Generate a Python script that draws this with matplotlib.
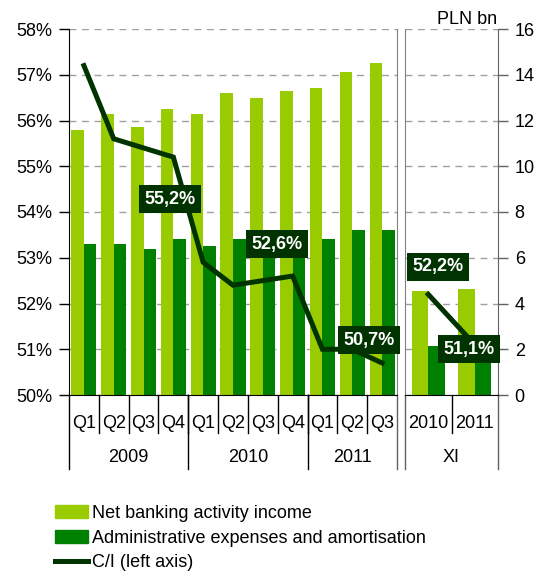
import matplotlib.pyplot as plt
import matplotlib.patches as mpatches
from matplotlib.lines import Line2D

plt.rcParams['font.family'] = ['Liberation Sans', 'DejaVu Sans']

# quarterly data
quarters = ['Q1', 'Q2', 'Q3', 'Q4', 'Q1', 'Q2', 'Q3', 'Q4', 'Q1', 'Q2', 'Q3']
years = ['2009', '2010', '2011']
year_len = [4, 4, 3]
income_q = [11.6, 12.3, 11.7, 12.5, 12.3, 13.2, 13.0, 13.3, 13.4, 14.1, 14.5]
costs_q = [6.6, 6.6, 6.4, 6.8, 6.5, 6.8, 6.8, 7.0, 6.8, 7.2, 7.2]
ci_q = [57.2, 55.6, 55.4, 55.2, 52.9, 52.4, 52.5, 52.6, 51.0, 51.0, 50.7]

# year to date (XI)
ytd_labels = ['2010', '2011']
income_ytd = [4.55, 4.63]
costs_ytd = [2.14, 2.2]
ci_ytd = [52.2, 51.1]

light = '#99CC00'
dark = '#008000'
line_c = '#003300'
fs = 13

fig = plt.figure(figsize=(5.34, 5.71), dpi=100)
W, H = 534, 571
bottom = 1 - 395 / H
height = 366 / H
ax1 = fig.add_axes([69 / W, bottom, (397 - 69) / W, height])
ax2 = fig.add_axes([405 / W, bottom, (498 - 405) / W, height])


def setup_bars(ax, inc, cost, bw):
    x = list(range(len(inc)))
    ax.bar([i - bw / 2 for i in x], inc, width=bw, color=light, zorder=2)
    ax.bar([i + bw / 2 for i in x], cost, width=bw, color=dark, zorder=2)
    ax.set_xlim(-0.5, len(inc) - 0.5)
    ax.set_ylim(0, 16)
    ax.set_yticks(range(0, 17, 2))
    ax.yaxis.grid(True, ls=(0, (5, 4)), color='#a0a0a0', lw=1)
    ax.set_axisbelow(True)
    ax.tick_params(axis='x', bottom=False, labelbottom=False)
    ax.spines['top'].set_visible(False)
    return x


x1 = setup_bars(ax1, income_q, costs_q, 0.42)
x2 = setup_bars(ax2, income_ytd, costs_ytd, 0.36)

# C/I line on left scale
l1 = ax1.twinx()
l1.set_ylim(50, 58)
l1.yaxis.tick_left()
l1.set_yticks(range(50, 59))
l1.set_yticklabels(['%d%%' % v for v in range(50, 59)])
l1.tick_params(axis='y', length=7, width=1, labelsize=fs, pad=5)
for s in l1.spines.values():
    s.set_visible(False)
l1.plot(x1, ci_q, color=line_c, lw=3.6, solid_joinstyle='miter', zorder=3)

l2 = ax2.twinx()
l2.set_ylim(50, 58)
l2.set_yticks([])
for s in l2.spines.values():
    s.set_visible(False)
l2.plot(x2, ci_ytd, color=line_c, lw=3.6, zorder=3)

ax1.tick_params(axis='y', left=False, right=False, labelleft=False, labelright=False)
ax1.spines['left'].set_color('black')
ax1.spines['right'].set_color('#808080')
ax2.yaxis.tick_right()
ax2.tick_params(axis='y', right=True, left=False, labelleft=False, labelright=True,
                length=7, width=1, labelsize=fs, pad=5, color='#606060')
ax2.spines['left'].set_color('#808080')
ax2.spines['right'].set_color('#606060')

box = dict(boxstyle='square,pad=0.3', fc=line_c, ec='none')
lab_kw = dict(color='white', fontsize=fs, fontweight='bold', ha='center', va='center',
              bbox=box, zorder=5)
l1.text(2.9, 54.28, '55,2%', **lab_kw)
l1.text(6.46, 53.3, '52,6%', **lab_kw)
l1.text(9.55, 51.2, '50,7%', **lab_kw)
l2.text(0.2, 52.8, '52,2%', **lab_kw)
l2.text(0.87, 51.0, '51,1%', **lab_kw)

# category axis below
q_y = (395 - 423) / 366
yr_y = (395 - 458) / 366
q_sep = (395 - 433) / 366
yr_sep = (395 - 469) / 366

t1 = ax1.get_xaxis_transform()
for i, q in enumerate(quarters):
    ax1.text(i, q_y, q, transform=t1, ha='center', va='center', fontsize=fs)
for i in range(1, len(quarters)):
    ax1.plot([i - 0.5, i - 0.5], [0, q_sep], transform=t1, color='black', lw=1, clip_on=False)
start = 0
for yr, n in zip(years, year_len):
    ax1.text(start + n / 2 - 0.5, yr_y, yr, transform=t1, ha='center', va='center', fontsize=fs)
    ax1.plot([start - 0.5, start - 0.5], [0, yr_sep], transform=t1, color='black', lw=1, clip_on=False)
    start += n
ax1.plot([start - 0.5, start - 0.5], [0, yr_sep], transform=t1, color='#606060', lw=1, clip_on=False)

t2 = ax2.get_xaxis_transform()
for i, lab in enumerate(ytd_labels):
    ax2.text(i, q_y, lab, transform=t2, ha='center', va='center', fontsize=fs)
ax2.plot([0.5, 0.5], [0, q_sep], transform=t2, color='black', lw=1, clip_on=False)
ax2.plot([-0.5, -0.5], [0, yr_sep], transform=t2, color='#606060', lw=1, clip_on=False)
ax2.plot([1.5, 1.5], [0, yr_sep], transform=t2, color='#606060', lw=1, clip_on=False)
ax2.text(0.5, yr_y, 'XI', transform=t2, ha='center', va='center', fontsize=fs)

fig.text(497 / W, 1 - 19 / H, 'PLN bn', ha='right', va='center', fontsize=fs)

handles = [mpatches.Patch(color=light), mpatches.Patch(color=dark),
           Line2D([], [], color=line_c, lw=3.6)]
labels = ['Net banking activity income', 'Administrative expenses and amortisation',
          'C/I (left axis)']
fig.legend(handles, labels, loc='upper left', bbox_to_anchor=(55 / W, 1 - 505 / H),
           frameon=False, fontsize=fs, handlelength=1.8, handleheight=0.75,
           handletextpad=0.25, labelspacing=0.42, borderpad=0, borderaxespad=0)

fig.savefig('out.png', dpi=100)
